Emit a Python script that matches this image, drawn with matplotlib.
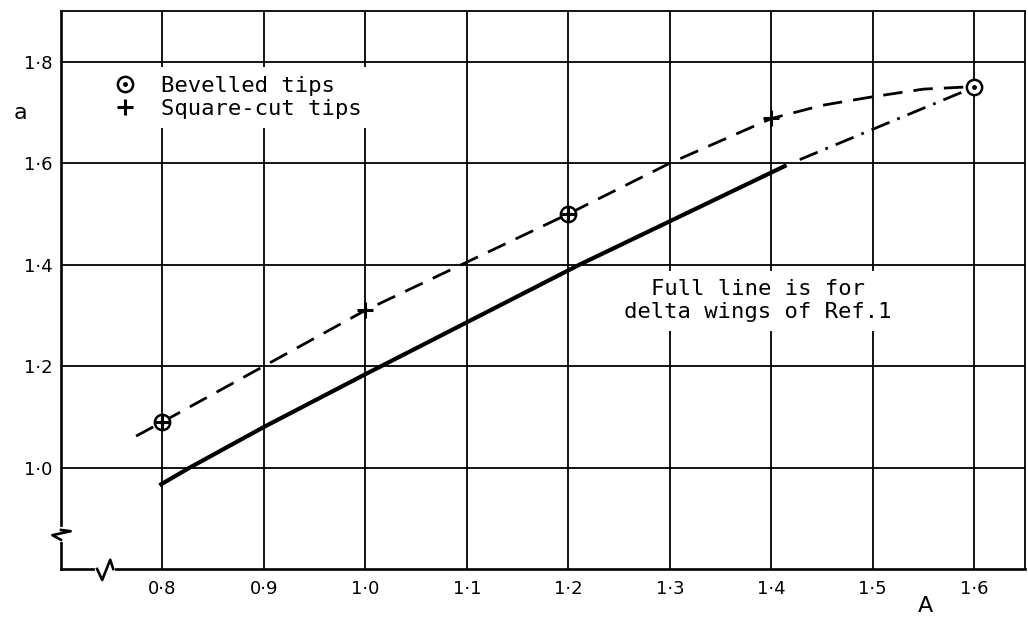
import matplotlib.pyplot as plt

plt.rcParams['font.family'] = ['DejaVu Sans']
plt.rcParams['lines.scale_dashes'] = False

# values
bev_x = [0.8, 1.2, 1.6]
bev_y = [1.09, 1.50, 1.75]
sq_x = [0.8, 1.0, 1.2, 1.4]
sq_y = [1.09, 1.31, 1.50, 1.69]

dash_x = [0.774, 0.8, 0.9, 1.0, 1.1, 1.2, 1.3, 1.4, 1.45, 1.5, 1.55, 1.6]
dash_y = [1.062, 1.09, 1.20, 1.31, 1.405, 1.50, 1.60, 1.688, 1.714, 1.731, 1.746, 1.751]

full_x = [0.797, 0.827, 0.9, 1.0, 1.211, 1.415]
full_y = [0.965, 1.0, 1.08, 1.184, 1.40, 1.596]

ext_x = [1.428, 1.6]
ext_y = [1.607, 1.75]

x_ticks = [0.8, 0.9, 1.0, 1.1, 1.2, 1.3, 1.4, 1.5, 1.6]
y_ticks = [1.0, 1.2, 1.4, 1.6, 1.8]
legend_labels = ['Bevelled tips', 'Square-cut tips']
note = 'Full line is for\ndelta wings of Ref.1'

y_break = 0.871
x_break = 0.745

lettering = ['DejaVu Sans Mono', 'DejaVu Sans']


def dotted(v):
    return f'{v:.1f}'.replace('.', '\u00b7')


fig = plt.figure(figsize=(10.28, 6.18), dpi=100)
ax = fig.add_axes([61 / 1028, 49 / 618, 964 / 1028, 558 / 618])
ax.set_xlim(0.7, 1.65)
ax.set_ylim(0.8, 1.9)

ax.set_xticks(x_ticks)
ax.set_xticklabels([dotted(v) for v in x_ticks])
ax.set_yticks(y_ticks)
ax.set_yticklabels([dotted(v) for v in y_ticks])
ax.tick_params(axis='both', length=0, labelsize=13)
ax.tick_params(axis='x', pad=8)
ax.tick_params(axis='y', pad=6)

ax.set_axisbelow(True)
ax.grid(True, color='black', lw=1.3)
for side in ['left', 'bottom']:
    ax.spines[side].set_linewidth(1.9)
for side in ['top', 'right']:
    ax.spines[side].set_linewidth(1.3)

# curves
ax.plot(dash_x, dash_y, color='black', lw=2.0, dashes=(14, 8), zorder=2)
ax.plot(full_x, full_y, color='black', lw=3.0, solid_capstyle='butt', zorder=2)
ax.plot(ext_x, ext_y, color='black', lw=2.0, dashes=(14, 6, 2, 6), zorder=2)

# points
h_bev = ax.plot(bev_x, bev_y, 'o', ms=11, mfc='white', mec='black', mew=1.8, zorder=4)[0]
h_dot = ax.plot(bev_x, bev_y, 'o', ms=2.5, color='black', zorder=5)[0]
h_sq = ax.plot(sq_x, sq_y, '+', ms=11, mew=2.2, color='black', zorder=5)[0]

leg = ax.legend([(h_bev, h_dot), h_sq], legend_labels, loc='upper left',
                bbox_to_anchor=(0.046, 0.9), frameon=True,
                prop={'family': lettering, 'size': 16},
                fancybox=False, edgecolor='none', facecolor='white', framealpha=1,
                handlelength=1.0, handletextpad=1.1, labelspacing=0.15,
                borderpad=0.4, borderaxespad=0)

ax.text(1.387, 1.329, note, ha='center', va='center', fontsize=16,
        family=lettering, multialignment='center', zorder=3,
        bbox=dict(fc='white', ec='none', pad=6))

ax.set_xlabel('A', fontsize=16)
ax.xaxis.set_label_coords(0.897, -0.048)
ax.set_ylabel('a', fontsize=16, rotation=0, ha='center', va='center')
ax.yaxis.set_label_coords(-0.0425, 0.817)

# axis break marks
ax.plot([0.7, 0.7], [y_break - 0.014, y_break + 0.007], color='white', lw=3,
        clip_on=False, zorder=6)
ax.plot([0.7, 0.7095, 0.6915, 0.7], [y_break + 0.006, y_break + 0.0035,
        y_break - 0.0043, y_break - 0.0135], color='black', lw=1.9,
        clip_on=False, zorder=7)
ax.plot([x_break - 0.0094, x_break + 0.0065], [0.8, 0.8], color='white', lw=3,
        clip_on=False, zorder=6)
ax.plot([x_break - 0.0094, x_break - 0.0044, x_break + 0.0035, x_break + 0.0065],
        [0.8, 0.7784, 0.8182, 0.8], color='black', lw=1.9,
        clip_on=False, zorder=7)

fig.savefig('out.png', dpi=100)
